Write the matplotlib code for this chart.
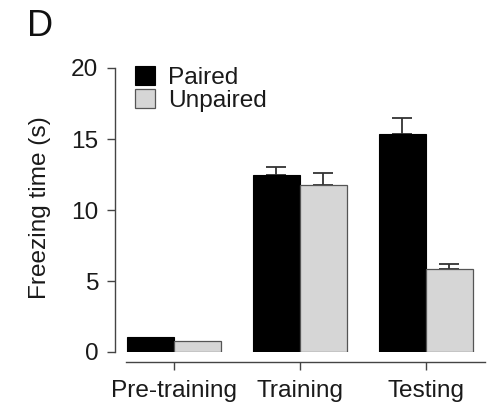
import matplotlib
matplotlib.use("Agg")
import matplotlib.pyplot as plt
import numpy as np

categories = ["Pre-training", "Training", "Testing"]
paired = [1.05, 12.45, 15.35]
unpaired = [0.8, 11.75, 5.85]
paired_err = [0.0, 0.55, 1.1]
unpaired_err = [0.0, 0.85, 0.35]
series_labels = ["Paired", "Unpaired"]
y_ticks = [0, 5, 10, 15, 20]

plt.rcParams['font.family'] = ['Liberation Sans', 'DejaVu Sans']

fig = plt.figure(figsize=(4.9, 4.07), dpi=100)
ax = fig.add_axes([126/490, 1-352/407, (485-126)/490, (352-68)/407])

x = np.arange(len(categories))
w = 0.373
dark = '#333333'
fs = 17.6
b1 = ax.bar(x - w/2, paired, w, color='black', edgecolor='black', linewidth=0.8,
            label=series_labels[0], zorder=2)
b2 = ax.bar(x + w/2, unpaired, w, color='#d6d6d6', edgecolor='#555555', linewidth=0.9,
            label=series_labels[1], zorder=2)

for xs, vals, errs in [(x - w/2, paired, paired_err), (x + w/2, unpaired, unpaired_err)]:
    for xi, v, e in zip(xs, vals, errs):
        if e > 0:
            ax.errorbar(xi, v, yerr=[[0], [e]], fmt='none', ecolor=dark,
                        elinewidth=1.3, capsize=7.5, capthick=1.3, zorder=1)

ax.set_xlim(-0.38, 2.47)
ax.set_ylim(0, 20)
ax.set_yticks(y_ticks)
ax.set_xticks(x)
ax.set_xticklabels(categories)

for s in ['top', 'right']:
    ax.spines[s].set_visible(False)
ax.spines['left'].set_position(('outward', 8))
ax.spines['bottom'].set_position(('outward', 7.2))
for s in ['left', 'bottom']:
    ax.spines[s].set_color('#444444')
    ax.spines[s].set_linewidth(1.0)

ax.tick_params(axis='y', length=5.5, width=1.0, color='#444444', pad=6.5,
               labelsize=fs, labelcolor='#1a1a1a')
ax.tick_params(axis='x', length=5.5, width=1.0, color='#444444', pad=7.5,
               labelsize=fs, labelcolor='#1a1a1a')

ax.set_ylabel("Freezing time (s)", fontsize=fs, color='#1a1a1a')
ax.yaxis.set_label_coords(51/490, 1-208/407, transform=fig.transFigure)

leg = ax.legend(loc='upper left', bbox_to_anchor=(135/490, 1-66/407),
                bbox_transform=fig.transFigure, frameon=False, fontsize=fs,
                handlelength=0.82, handleheight=0.82, handletextpad=0.55,
                labelspacing=0.0, borderpad=0, borderaxespad=0)
for t in leg.get_texts():
    t.set_color('#1a1a1a')

fig.text(27/490, 1-36/407, "D", fontsize=26, color='#111111', ha='left', va='baseline')

fig.savefig("out.png", dpi=100)
